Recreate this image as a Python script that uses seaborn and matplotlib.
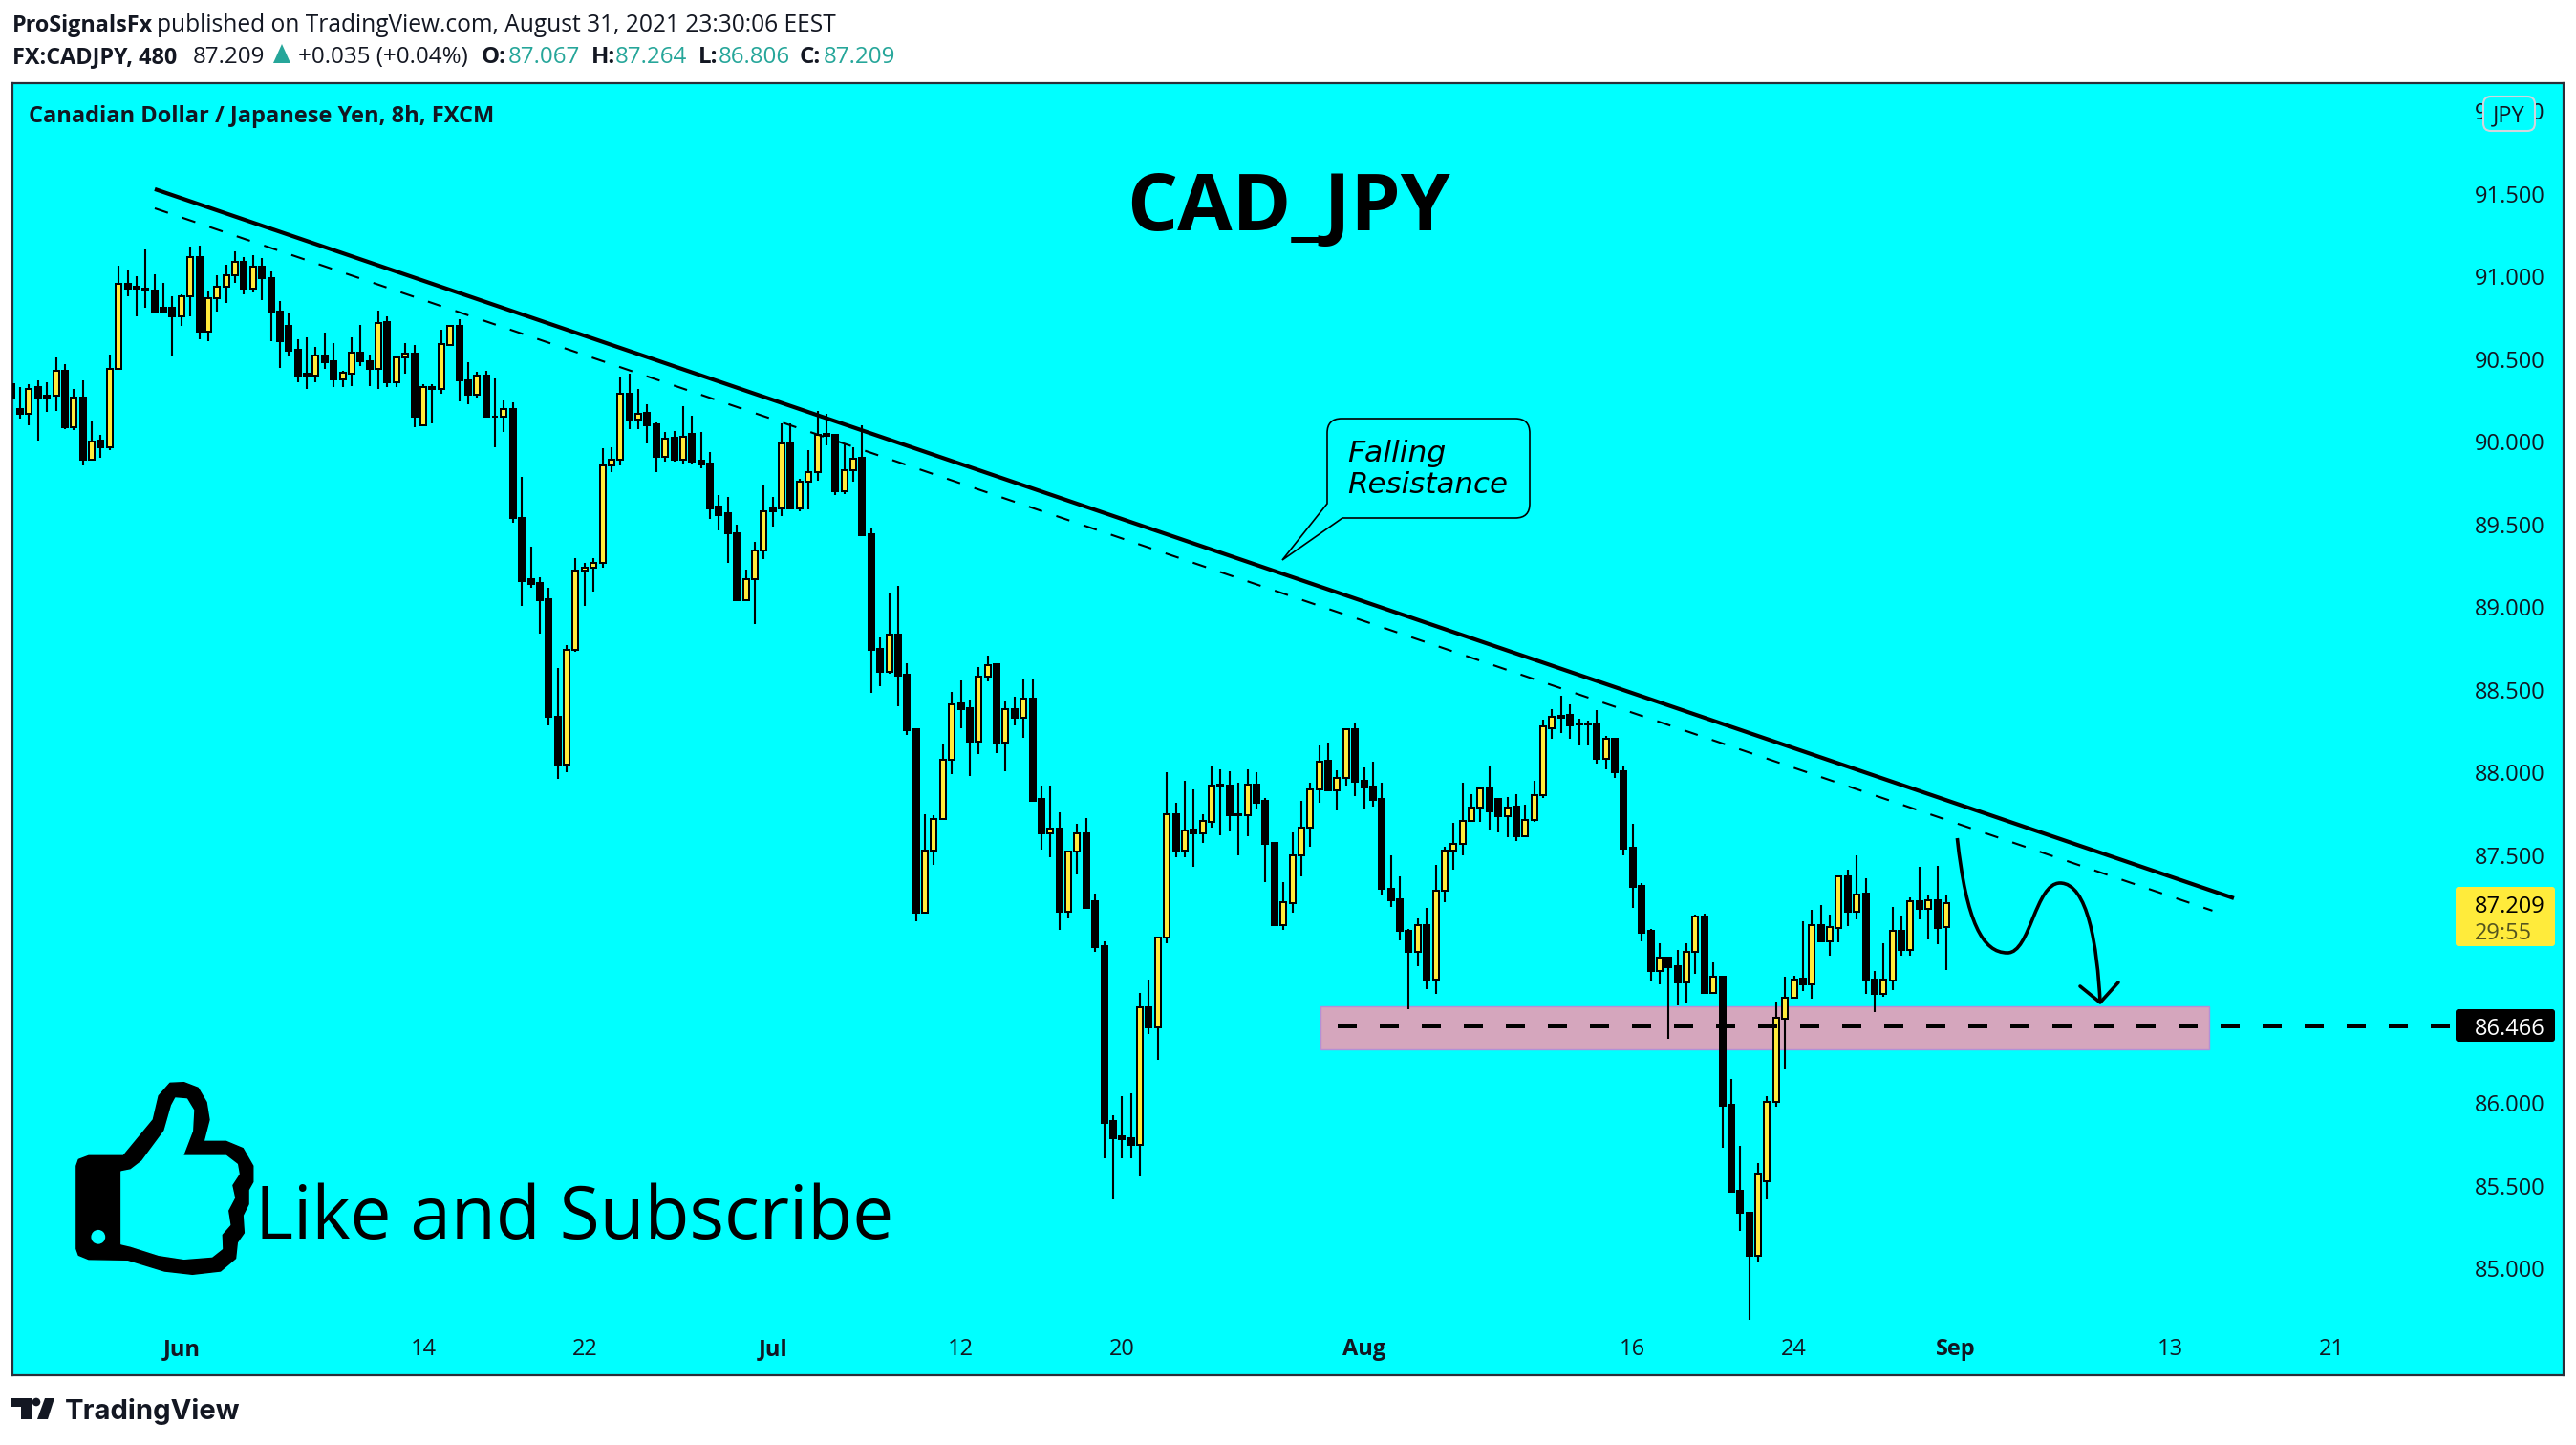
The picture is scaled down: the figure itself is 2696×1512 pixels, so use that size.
import numpy as np
import matplotlib
matplotlib.use("Agg")
import matplotlib.pyplot as plt
import seaborn as sns
from matplotlib.patches import Polygon, Circle, Rectangle, FancyBboxPatch, PathPatch
from matplotlib.path import Path

# 8h candles, first one is cut by the left frame
highs = [90.35,90.33,90.35,90.37,90.36,90.51,90.47,90.32,90.37,90.13,90.04,
90.53,91.065,91.04,91.00,91.165,91.015,90.96,90.88,90.89,91.18,
91.19,90.91,91.01,91.07,91.15,91.12,91.13,91.11,91.03,90.85,
90.78,90.62,90.63,90.575,90.66,90.60,90.43,90.63,90.71,90.53,
90.795,90.76,90.52,90.60,90.585,90.35,90.35,90.68,90.71,90.74,
90.48,90.425,90.43,90.385,90.25,90.24,89.79,89.365,89.18,89.12,
88.635,88.77,89.30,89.27,89.30,89.96,89.97,90.39,90.41,90.32,
90.23,90.12,90.06,90.065,90.215,90.16,90.06,89.94,89.68,89.665,
89.50,89.23,89.395,89.735,89.67,90.11,90.11,89.775,89.95,90.19,
90.17,90.04,89.985,89.97,90.10,89.48,88.82,89.09,89.13,88.66,
88.27,87.75,87.74,88.17,88.49,88.56,88.44,88.64,88.71,88.655,
88.43,88.46,88.57,88.57,87.92,87.92,87.76,87.53,87.69,87.725,
87.27,86.98,85.93,86.04,86.06,86.67,86.75,87.01,88.00,87.82,
87.95,87.90,87.75,88.04,88.02,88.01,87.94,88.02,88.00,87.845,
87.575,87.34,87.64,87.83,87.94,88.165,88.18,88.015,88.26,88.30,
88.03,88.065,87.94,87.50,87.37,87.055,87.12,87.18,87.44,87.55,
87.695,87.94,87.87,87.915,88.04,87.84,87.85,87.87,87.805,87.95,
88.32,88.385,88.465,88.41,88.325,88.315,88.38,88.22,88.205,88.04,
87.69,87.33,87.055,86.97,86.88,86.93,86.97,87.14,87.145,86.85,
86.77,86.145,85.74,85.34,85.64,86.04,86.615,86.765,86.77,87.10,
87.17,87.20,87.14,87.38,87.41,87.50,87.36,86.80,86.97,87.19,
87.135,87.245,87.43,87.255,87.435,87.264]

body_top = [90.35,90.20,90.32,90.33,90.28,90.43,90.43,90.27,90.27,90.005,90.01,
90.44,90.955,90.955,90.94,90.93,90.915,90.81,90.81,90.88,91.12,
91.12,90.87,90.94,91.01,91.09,91.09,91.06,91.06,90.99,90.79,
90.70,90.56,90.41,90.52,90.52,90.49,90.42,90.54,90.54,90.49,
90.72,90.725,90.51,90.535,90.535,90.33,90.33,90.59,90.70,90.70,
90.37,90.40,90.40,90.155,90.20,90.20,89.54,89.17,89.145,89.05,
88.34,88.745,89.22,89.24,89.27,89.86,89.89,90.29,90.29,90.17,
90.175,90.105,90.02,90.025,90.03,90.05,89.885,89.87,89.61,89.57,
89.45,89.17,89.345,89.58,89.60,89.99,89.99,89.76,89.815,90.045,
90.05,90.04,89.83,89.90,89.905,89.44,88.75,88.835,88.835,88.59,
88.26,87.53,87.72,88.075,88.415,88.42,88.39,88.58,88.65,88.655,
88.385,88.385,88.445,88.445,87.84,87.66,87.66,87.52,87.63,87.63,
87.22,86.95,85.89,85.80,85.79,86.58,86.58,87.00,87.75,87.75,
87.65,87.655,87.705,87.92,87.93,87.92,87.75,87.925,87.925,87.83,
87.575,87.215,87.50,87.67,87.90,88.065,88.07,87.97,88.26,88.26,
87.95,87.915,87.84,87.30,87.235,87.04,87.075,87.08,87.285,87.53,
87.57,87.705,87.79,87.905,87.91,87.84,87.79,87.795,87.715,87.865,
88.28,88.335,88.345,88.35,88.30,88.30,88.29,88.205,88.205,88.01,
87.545,87.315,87.04,86.88,86.88,86.83,86.915,87.13,87.13,86.765,
86.765,85.99,85.47,85.34,85.575,86.01,86.515,86.64,86.75,86.755,
87.075,87.08,87.065,87.37,87.37,87.265,87.27,86.75,86.75,87.04,
87.04,87.22,87.22,87.23,87.23,87.209]

body_bot = [90.26,90.17,90.17,90.27,90.27,90.28,90.09,90.09,89.89,89.89,89.97,
89.97,90.44,90.93,90.93,90.92,90.79,90.79,90.76,90.76,90.88,
90.67,90.67,90.87,90.94,91.01,90.93,90.93,90.99,90.79,90.61,
90.55,90.40,90.40,90.40,90.48,90.38,90.38,90.41,90.49,90.44,
90.44,90.36,90.36,90.51,90.15,90.10,90.32,90.32,90.585,90.37,
90.285,90.285,90.15,90.15,90.15,89.54,89.16,89.14,89.04,88.34,
88.05,88.05,88.745,89.22,89.24,89.27,89.86,89.89,90.135,90.135,
90.10,89.91,89.91,89.89,89.895,89.88,89.865,89.60,89.56,89.445,
89.04,89.04,89.17,89.345,89.58,89.595,89.60,89.60,89.76,89.815,
90.035,89.70,89.70,89.83,89.435,88.74,88.61,88.61,88.585,88.255,
87.15,87.15,87.53,87.72,88.075,88.385,88.19,88.19,88.58,88.18,
88.18,88.33,88.33,87.83,87.63,87.63,87.16,87.16,87.52,87.18,
86.945,85.88,85.79,85.78,85.75,85.75,86.46,86.46,87.00,87.53,
87.53,87.63,87.63,87.70,87.915,87.74,87.74,87.745,87.82,87.57,
87.08,87.08,87.21,87.50,87.67,87.90,87.89,87.895,87.97,87.945,
87.91,87.835,87.30,87.23,87.04,86.915,86.915,86.75,86.75,87.285,
87.53,87.57,87.705,87.79,87.765,87.735,87.735,87.615,87.615,87.715,
87.865,88.27,88.33,88.285,88.29,88.29,88.085,88.085,88.00,87.54,
87.31,87.03,86.80,86.80,86.825,86.73,86.73,86.915,86.67,86.67,
85.985,85.465,85.335,85.08,85.08,85.53,86.01,86.51,86.64,86.72,
86.72,86.98,86.98,87.06,87.16,87.16,86.75,86.66,86.66,86.745,
86.925,86.925,87.175,87.175,87.06,87.067]

lows = [90.26,90.14,90.10,90.01,90.18,90.19,90.08,90.07,89.855,89.89,89.905,
89.95,90.44,90.88,90.76,90.81,90.78,90.78,90.52,90.70,90.76,
90.62,90.61,90.79,90.84,90.96,90.89,90.905,90.86,90.61,90.45,
90.52,90.36,90.32,90.36,90.44,90.33,90.33,90.34,90.46,90.34,
90.32,90.33,90.33,90.41,90.09,90.10,90.11,90.29,90.58,90.245,
90.23,90.27,90.15,89.97,90.06,89.51,89.01,89.12,88.84,88.285,
87.96,88.00,88.73,89.01,89.095,89.24,89.82,89.86,90.08,90.08,
89.99,89.82,89.88,89.88,89.87,89.87,89.84,89.535,89.465,89.27,
89.04,89.035,88.90,89.29,89.49,89.55,89.60,89.58,89.59,89.765,
89.98,89.68,89.685,89.76,89.435,88.48,88.52,88.60,88.40,88.23,
87.10,87.15,87.44,87.72,87.99,88.27,87.98,88.11,88.55,88.12,
88.01,88.285,88.21,87.83,87.535,87.49,87.05,87.12,87.385,87.18,
86.915,85.67,85.42,85.67,85.67,85.56,86.42,86.26,86.97,87.49,
87.49,87.43,87.575,87.67,87.62,87.645,87.50,87.615,87.78,87.34,
87.07,87.05,87.15,87.37,87.55,87.82,87.89,87.77,87.92,87.86,
87.78,87.795,87.26,87.19,86.985,86.57,86.83,86.69,86.66,87.215,
87.41,87.50,87.70,87.70,87.65,87.64,87.61,87.585,87.61,87.70,
87.845,88.205,88.24,88.205,88.165,88.165,88.055,88.02,87.97,87.50,
87.18,86.98,86.74,86.72,86.39,86.59,86.61,86.785,86.66,86.66,
85.73,85.465,85.23,84.69,85.04,85.42,85.98,86.205,86.64,86.68,
86.63,86.98,86.89,86.975,87.07,87.11,86.66,86.55,86.645,86.685,
86.89,86.89,87.11,86.99,86.96,86.806]

# Y = close above open, B = close below open
candle_dir = ("BBYBBYBYBYB" "YYBBBBBBYY" "BYYYYBYBBB" "BBBYBBYYBB" "YBYYBYBYYB"
              "BYBBYBBBBB" "BYYYYYYYBY" "BBYBYBBBBB" "BYYYBYBYYY" "BBYYBBBYBB"
              "BYYYYBBYYB" "YBYBBYBYYB" "BBBBBYBYYB" "YBYYBBBYBB" "BYYYYYBYYB"
              "BBBBBBYBYY" "YYYYBBYBYY" "YYBBBBBYBB" "BBBYBBYYBY" "BBBBYYYYYB"
              "YBYYBYBBYY" "BYBYBY")

price_ticks = [85.0, 85.5, 86.0, 86.5, 87.0, 87.5, 88.0, 88.5, 89.0, 89.5, 90.0, 90.5, 91.0, 91.5, 92.0]
date_ticks = [18, 45, 63, 84, 105, 123, 150, 180, 198, 216, 240, 258]
date_labels = ["Jun", "14", "22", "Jul", "12", "20", "Aug", "16", "24", "Sep", "13", "21"]
months = ["Jun", "Jul", "Aug", "Sep"]

resistance_x = [15.03, 247.1]
resistance_y = [91.529, 87.24]
channel_x = [15.03, 244.7]
channel_y = [91.413, 87.165]
zone_x = [145.1, 244.3]
zone_y = [86.327, 86.587]
level_x = [147.1, 271.8]
level_price = 86.466

BG = "#00ffff"
YEL = "#ffeb3b"
INK = "#131722"
TEAL = "#26a69a"

sns.set_theme(style="white")
plt.rcParams['font.family'] = ['Open Sans', 'DejaVu Sans']

fig = plt.figure(figsize=(26.96, 15.12), dpi=100, facecolor="white")
W, H = 2696, 1512
ax = fig.add_axes([13 / W, 1 - 1439 / H, (2683 - 13) / W, (1439 - 87) / H], facecolor=BG)

idx = np.arange(-1, len(highs) - 1)
highs = np.array(highs)
lows = np.array(lows)
body_top = np.array(body_top)
body_bot = np.array(body_bot)
is_up = np.array([c == "Y" for c in candle_dir])

ax.add_patch(Rectangle((zone_x[0], zone_y[0]), zone_x[1] - zone_x[0], zone_y[1] - zone_y[0],
                       facecolor="#d5a6bd", edgecolor="#b48fd6", linewidth=1, zorder=1))

ax.vlines(idx, lows, highs, color="black", linewidth=1.5, zorder=2)

# candle bodies
for mask, col in [(is_up, YEL), (~is_up, "black")]:
    sns.barplot(x=idx[mask], y=(body_top - body_bot)[mask], bottom=body_bot[mask], native_scale=True,
                color=col, saturation=1, edgecolor="black", linewidth=1.44, width=0.64,
                errorbar=None, zorder=3, ax=ax)

ax.plot(resistance_x, resistance_y, color="black", linewidth=3, solid_capstyle="butt", zorder=4)
ax.plot(channel_x, channel_y, color="black", linewidth=1.5, dashes=(7, 7.5), dash_capstyle="butt", zorder=4)
ax.plot(level_x, [level_price, level_price], color="black", linewidth=2.88, dashes=(5, 6),
        dash_capstyle="butt", zorder=4)

ax.set_xlim(-0.86, 283.9)
ax.set_ylim(84.355, 92.17)
ax.set_xlabel("")
ax.set_ylabel("")
for s in ax.spines.values():
    s.set_color("#2a2e39")
    s.set_linewidth(1.6)

ax.yaxis.tick_right()
ax.set_yticks(price_ticks)
ax.set_yticklabels(["%.3f" % p for p in price_ticks])
ax.tick_params(axis="y", length=0, pad=-67, labelsize=17, labelcolor=INK)
ax.set_xticks(date_ticks)
ax.set_xticklabels(date_labels)
ax.tick_params(axis="x", length=0, pad=-28, labelsize=17, labelcolor=INK)
for lab in ax.get_xticklabels():
    lab.set_fontweight("bold" if lab.get_text() in months else "normal")
    lab.set_zorder(6)

# overlay in picture pixels for the drawings and price tags
top = fig.add_axes([0, 0, 1, 1], facecolor="none")
top.set_xlim(0, W)
top.set_ylim(H, 0)
top.axis("off")


def txt(x, y, s, size=17.65, color=INK, weight="normal", **kw):
    return top.text(x, y, s, fontsize=size, color=color, fontweight=weight, va="baseline", **kw)


# header
txt(13, 33, "ProSignalsFx", size=16.8, weight="bold")
txt(164, 33, "published on TradingView.com, August 31, 2021 23:30:06 EEST")
txt(13, 66, "FX:CADJPY, 480", size=16.8, weight="bold")
txt(202, 66, "87.209", size=17.4)
top.add_patch(Polygon([[286, 66], [304, 66], [295, 46]], facecolor=TEAL, edgecolor="none"))
txt(312, 66, "+0.035 (+0.04%)", size=17.4)
for xl, lab, xv, val in [(504, "O:", 532, "87.067"), (619, "H:", 644, "87.264"),
                         (731, "L:", 752, "86.806"), (837, "C:", 862, "87.209")]:
    txt(xl, 66, lab, size=17.4, weight="bold")
    txt(xv, 66, val, size=17.4, color=TEAL)

txt(30, 128, "Canadian Dollar / Japanese Yen, 8h, FXCM", size=17, weight="bold")
txt(1348, 241, "CAD_JPY", size=60, color="black", weight="bold", ha="center")
txt(267, 1296, "Like and Subscribe", size=55.2, color="black")

# callout
bubble = [(Path.MOVETO, (1404, 438)), (Path.LINETO, (1586, 438)),
          (Path.CURVE3, (1601, 438)), (Path.CURVE3, (1601, 453)),
          (Path.LINETO, (1601, 527)), (Path.CURVE3, (1601, 542)), (Path.CURVE3, (1586, 542)),
          (Path.LINETO, (1405, 542)), (Path.LINETO, (1342, 586)), (Path.LINETO, (1389, 527)),
          (Path.LINETO, (1389, 453)), (Path.CURVE3, (1389, 438)), (Path.CURVE3, (1404, 438)),
          (Path.CLOSEPOLY, (1404, 438))]
codes, verts = zip(*bubble)
top.add_patch(PathPatch(Path(verts, codes), facecolor=BG, edgecolor="black", linewidth=1.2))
top.text(1410, 483, "Falling", fontsize=22.6, family="DejaVu Sans", style="oblique", va="baseline", color="black")
top.text(1410, 516, "Resistance", fontsize=22.2, family="DejaVu Sans", style="oblique", va="baseline", color="black")

# projected move
curve = Path([(2048.4, 877), (2058, 965), (2075, 997), (2101, 997),
              (2125, 997), (2130, 924), (2156, 924),
              (2185, 924), (2195, 990), (2198, 1049)],
             [Path.MOVETO] + [Path.CURVE4] * 9)
top.add_patch(PathPatch(curve, facecolor="none", edgecolor="black", linewidth=2.6, capstyle="butt"))
top.plot([2177, 2198, 2217], [1032, 1049, 1028], color="black", linewidth=2.6)

# price tags
top.add_patch(FancyBboxPatch((2572, 930), 100, 58, boxstyle="round,pad=2,rounding_size=3", facecolor=YEL, edgecolor="none"))
txt(2590, 955, "87.209", size=17, color="black")
txt(2590, 983, "29:55", size=17, color="#55551f")
top.add_patch(FancyBboxPatch((2572, 1058), 100, 30, boxstyle="round,pad=2,rounding_size=3", facecolor="black", edgecolor="none"))
txt(2590, 1083, "86.466", size=17, color="white")
top.add_patch(FancyBboxPatch((2606, 108), 40, 22, boxstyle="round,pad=7,rounding_size=8", facecolor=BG, edgecolor="#d1d4dc", linewidth=1.5))
txt(2626, 127, "JPY", size=17, ha="center")

# thumbs up
outer = np.array([(68, 360), (72, 340), (90, 328), (152, 328), (205, 215), (215, 140), (235, 100), (260, 98), (285, 115),
                  (300, 160), (305, 215), (295, 283), (335, 283), (365, 305), (383, 360), (383, 410), (375, 435),
                  (375, 480), (365, 515), (367, 570), (355, 600), (352, 650), (325, 690), (275, 700), (225, 690),
                  (160, 655), (90, 653), (72, 640), (68, 620)], dtype=float)
inner = np.array([(148, 378), (165, 372), (185, 345), (225, 250), (238, 170), (245, 147), (265, 150), (277, 185),
                  (275, 250), (258, 328), (335, 328), (355, 355), (358, 385), (345, 420), (350, 460), (338, 500),
                  (342, 545), (327, 575), (328, 620), (310, 645), (260, 652), (215, 640), (165, 612), (148, 605)],
                 dtype=float)
for pts, col in [(outer, "black"), (inner, BG)]:
    px = np.column_stack([40 + pts[:, 0] / 1.704, 1100 + pts[:, 1] / 3])
    top.add_patch(Polygon(px, closed=True, facecolor=col, edgecolor=col, linewidth=1, joinstyle="round"))
top.add_patch(Circle((102.8, 1294.3), 7.4, facecolor=BG, edgecolor="none"))

# footer logo
top.add_patch(Polygon([(12, 1463), (33, 1463), (33, 1485), (22, 1485), (22, 1472), (12, 1472)], facecolor=INK, edgecolor="none"))
top.add_patch(Circle((38, 1467), 4.3, facecolor=INK, edgecolor="none"))
top.add_patch(Polygon([(47, 1463), (57, 1463), (50, 1485), (39, 1485)], facecolor=INK, edgecolor="none"))
top.text(68, 1485, "TradingView", fontsize=21, family="Inter", fontweight="bold", color=INK, va="baseline")

fig.savefig("out.png", dpi=100, facecolor="white")
